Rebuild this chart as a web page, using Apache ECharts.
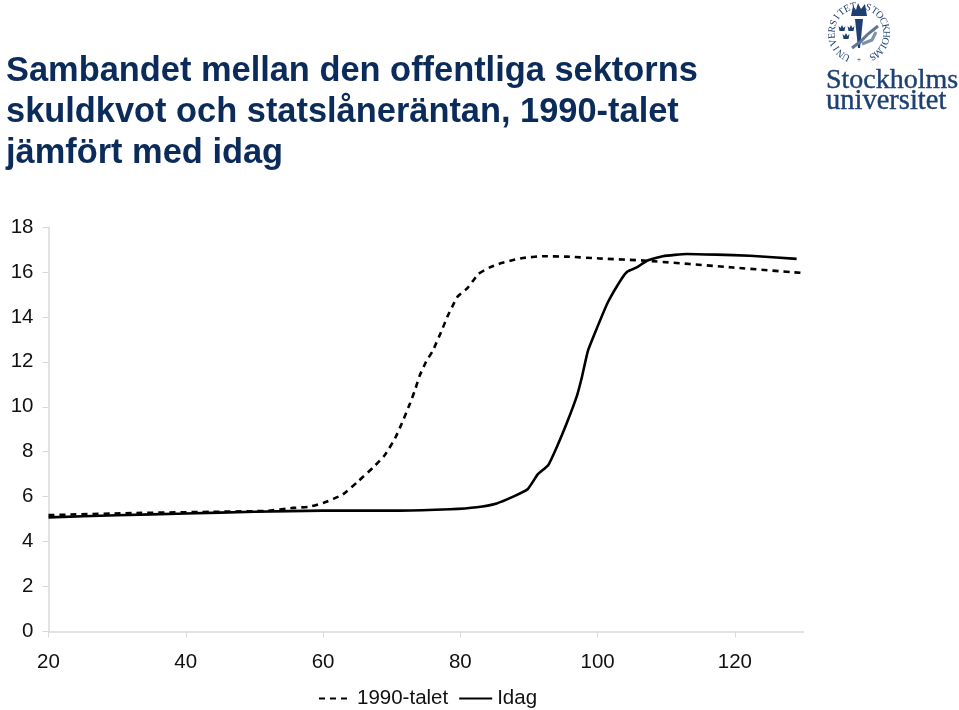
<!DOCTYPE html>
<html><head><meta charset="utf-8">
<style>html,body{margin:0;padding:0;background:#fff}#c{width:959px;height:710px}</style>
<script src="https://cdn.jsdelivr.net/npm/echarts@6/dist/echarts.min.js"></script></head>
<body><div id="c"></div>
<script>
const titleText = 'Sambandet mellan den offentliga sektorns\nskuldkvot och statslåneräntan, 1990-talet\njämfört med idag';
const seriesNames = ['1990-talet', 'Idag'];
const xTicks = [20, 40, 60, 80, 100, 120];
const yTicks = [0, 2, 4, 6, 8, 10, 12, 14, 16, 18];
const talet1990 = [[20,5.18],[32.3,5.27],[45,5.33],[51.8,5.37],[55.6,5.5],[58,5.55],[60,5.72],[61.5,5.9],[62.9,6.1],[65,6.65],[67.3,7.3],[69,7.85],[70.5,8.6],[71.5,9.28],[72.7,10.17],[73.4,10.75],[74.1,11.4],[75,12.0],[76,12.5],[77.3,13.4],[78.1,14.0],[78.9,14.5],[79.6,14.9],[81.1,15.3],[82.6,15.9],[84.3,16.2],[86,16.4],[87.7,16.53],[89.1,16.62],[92,16.7],[95.5,16.68],[100.3,16.6],[107.1,16.5],[119.7,16.2],[130,15.95]];
const idag = [[20,5.08],[30,5.17],[40,5.25],[50,5.33],[60,5.38],[71.2,5.38],[78.5,5.44],[82.4,5.53],[85.3,5.7],[87.7,6.0],[89.8,6.33],[91.3,7.0],[92.8,7.4],[94,8.17],[95.5,9.27],[97,10.5],[97.7,11.3],[98.6,12.5],[99.9,13.5],[101.5,14.65],[103.5,15.7],[104.4,16.03],[105.7,16.2],[107.2,16.5],[109.5,16.7],[113,16.8],[117.3,16.77],[122.2,16.72],[129,16.58]];
const logoWords = ['Stockholms', 'universitet'];
const sealText = 'UNIVERSITET';
const sealText2 = 'STOCKHOLMS';
const navy = '#0b2c5a', logoBlue = '#1d3f72', axisGrey = '#d9d9d9', font = '"Liberation Sans", Arial, sans-serif';

const logo = [];
const cx = 859, cy = 33, r = 27;
function ringText(txt, startDeg, stepDeg) {
  [...txt].forEach((ch, i) => {
    const deg = startDeg + i * stepDeg, a = deg * Math.PI / 180;
    logo.push({type:'text', x:cx + r*Math.sin(a), y:cy - r*Math.cos(a), rotation:-a,
      style:{text:ch, font:'10px "Liberation Serif", serif', fill:logoBlue, align:'center', verticalAlign:'middle'}});
  });
}
ringText(sealText, -152, 14);
ringText(sealText2, 20, 14.5);
logo.push({type:'text', x:cx, y:cy+27, style:{text:'+', font:'8px "Liberation Serif", serif', fill:logoBlue, align:'center', verticalAlign:'middle'}});
logo.push({type:'polygon', shape:{points:[[855,19],[863,19],[860,48],[858,48]]}, style:{fill:logoBlue}});
logo.push({type:'polygon', shape:{points:[[851,16],[853,6],[856,10],[858,3],[861,9],[865,4],[867,16]]}, style:{fill:logoBlue}});
[[842,29],[851,29],[846,37]].forEach(p => logo.push({type:'polygon',
  shape:{points:[[p[0]-3.5,p[1]-3],[p[0]-1.5,p[1]-1],[p[0],p[1]-4],[p[0]+1.5,p[1]-1],[p[0]+3.5,p[1]-3],[p[0]+2.5,p[1]+2],[p[0]-2.5,p[1]+2]]}, style:{fill:logoBlue}}));
logo.push({type:'polyline', shape:{points:[[852,48],[860,42],[868,34],[878,26]]}, style:{stroke:'#5f7796', lineWidth:3, fill:'none'}});
logo.push({type:'polyline', shape:{points:[[862,44],[872,40],[876,32]]}, style:{stroke:'#7d90aa', lineWidth:3, fill:'none'}});
logo.push({type:'text', x:826, y:81, style:{text:logoWords[0], font:'28px "Liberation Serif", serif', fill:logoBlue, stroke:logoBlue, lineWidth:0.4, align:'left', verticalAlign:'middle'}});
logo.push({type:'text', x:826, y:102, style:{text:logoWords[1], font:'28.5px "Liberation Serif", serif', fill:logoBlue, stroke:logoBlue, lineWidth:0.4, align:'left', verticalAlign:'middle'}});

const chart = echarts.init(document.getElementById('c'), null, {renderer:'canvas'});
const axisCommon = {
  axisLine:{show:true, onZero:false, lineStyle:{color:axisGrey, width:1.5}},
  axisTick:{show:true, length:6, lineStyle:{color:axisGrey, width:1}},
  splitLine:{show:false},
  axisLabel:{color:'#111', fontFamily:font, fontSize:20.5}
};
chart.setOption({
  animation:false,
  backgroundColor:'#fff',
  title:{text:titleText, left:1, top:46, textStyle:{color:navy, fontFamily:font, fontSize:34.4, fontWeight:'bold', lineHeight:41}},
  grid:{left:48.5, right:155.5, top:227, bottom:78.5, containLabel:false},
  legend:{left:313, top:683, itemWidth:33, itemHeight:10, itemGap:10,
    itemStyle:{opacity:0},
    data:seriesNames,
    textStyle:{color:'#111', fontFamily:font, fontSize:20.5, padding:[2,0,0,0]}},
  xAxis:Object.assign({type:'value', min:xTicks[0], max:130, interval:20}, axisCommon,
    {axisLabel:Object.assign({}, axisCommon.axisLabel, {margin:20, customValues:xTicks}),
     axisTick:Object.assign({}, axisCommon.axisTick, {customValues:xTicks})}),
  yAxis:Object.assign({type:'value', min:yTicks[0], max:yTicks[yTicks.length-1], interval:2}, axisCommon,
    {axisLabel:Object.assign({}, axisCommon.axisLabel, {margin:15, padding:[10,0,0,0]})}),
  series:[
    {name:seriesNames[0], type:'line', data:talet1990, showSymbol:false, symbol:'none', smooth:0.15,
      lineStyle:{color:'#000', width:2.6, type:[6,5]}, itemStyle:{color:'#000'}},
    {name:seriesNames[1], type:'line', data:idag, showSymbol:false, symbol:'none', smooth:0.15,
      lineStyle:{color:'#000', width:2.6, type:'solid'}, itemStyle:{color:'#000'}}
  ],
  graphic:{elements:logo}
});
</script></body></html>
